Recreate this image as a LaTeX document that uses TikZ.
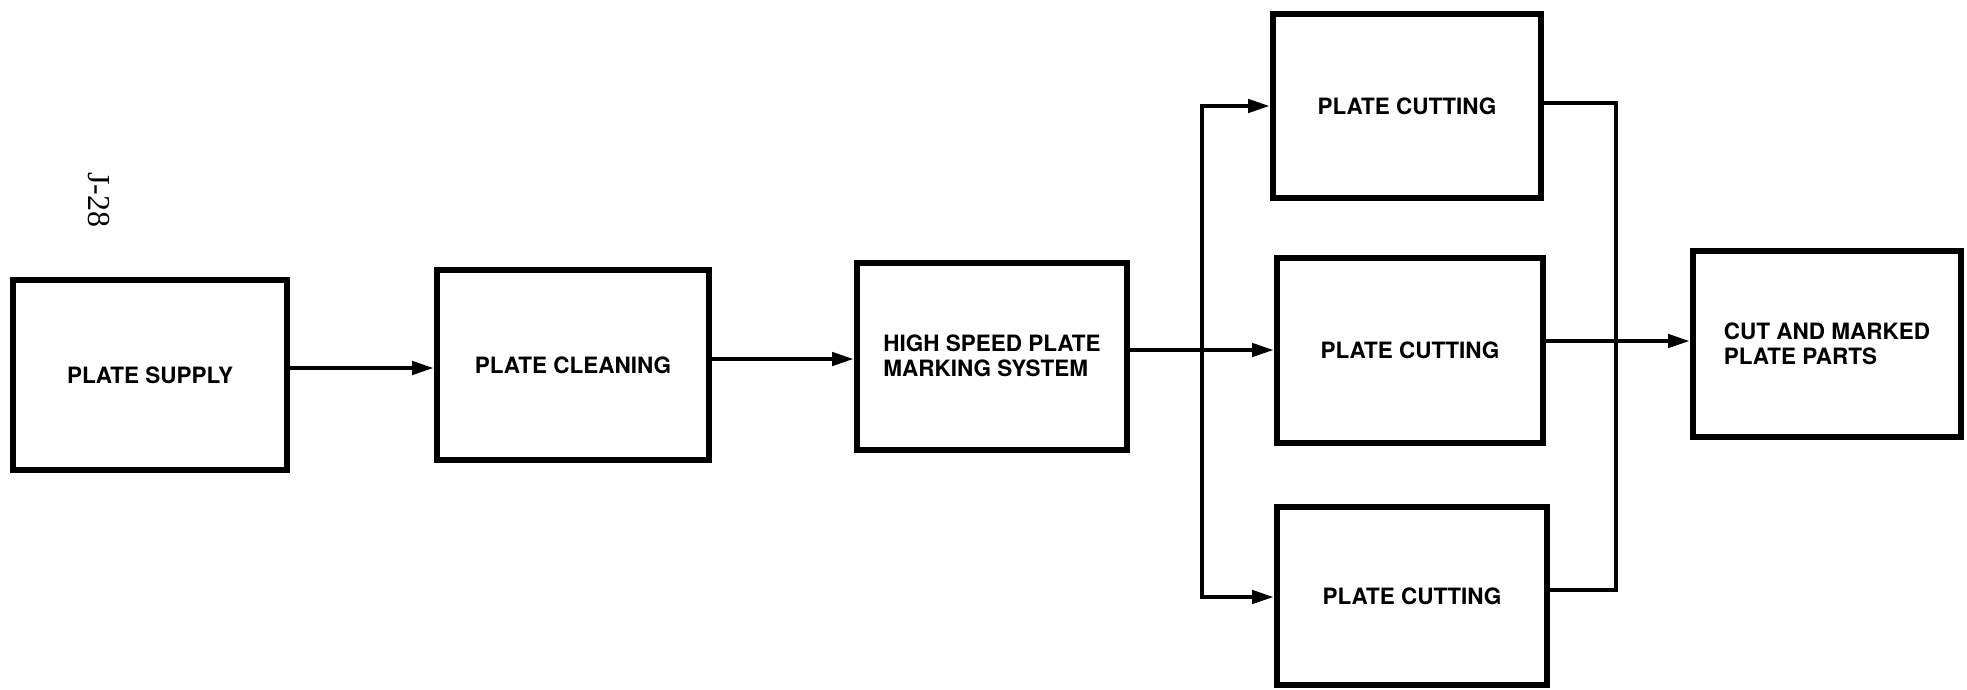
\documentclass[tikz,border=0pt]{standalone}
\usepackage{fontspec}
\setmainfont{TeX Gyre Heros}
\newfontfamily\serifj{Liberation Serif}
\usetikzlibrary{arrows.meta}
\tikzset{
  blk/.style={draw, line width=6pt, inner sep=0pt, align=left,
    font=\bfseries\fontsize{22.5}{25}\selectfont},
  conn/.style={line width=4.5pt},
  arr/.style={line width=4.5pt, -{Triangle[length=22pt,width=13pt]}},
}
\begin{document}
\begin{tikzpicture}[x=1pt,y=-1pt]
\useasboundingbox (0,0) rectangle (1967,689);
\node[rotate=-90, font=\serifj\fontsize{32}{34}\selectfont] (pg) at (99,200) {J-28};
\node[blk, minimum width=274pt, minimum height=190pt] (supply) at (150,375) {PLATE SUPPLY};
\node[blk, minimum width=272pt, minimum height=190pt] (clean) at (573,365) {PLATE CLEANING};
\node[blk, minimum width=270pt, minimum height=187pt] (mark) at (992,356) {HIGH SPEED PLATE\\MARKING SYSTEM};
\node[blk, minimum width=268pt, minimum height=184pt] (cut1) at (1407,106) {PLATE CUTTING};
\node[blk, minimum width=266pt, minimum height=185pt] (cut2) at (1410,350) {PLATE CUTTING};
\node[blk, minimum width=270pt, minimum height=178pt] (cut3) at (1412,596) {PLATE CUTTING};
\node[blk, minimum width=268pt, minimum height=186pt] (final) at (1827,344) {CUT AND MARKED\\PLATE PARTS};
\coordinate (bl1) at (1202,106);
\coordinate (bl2) at (1202,350);
\coordinate (bl3) at (1202,597);
\coordinate (br1) at (1616,103);
\coordinate (br2) at (1616,341);
\coordinate (br3) at (1616,590);
\draw[arr] (supply.east |- 0,368) -- (clean.west |- 0,368);
\draw[arr] (clean.east |- 0,359) -- (mark.west |- 0,359);
\draw[arr] (mark.east |- 0,350) -- (bl2) -- (cut2.west |- bl2);
\draw[conn, line cap=rect] (bl1) -- (bl3);
\draw[arr] (bl1) -- (cut1.west |- bl1);
\draw[arr] (bl3) -- (cut3.west |- bl3);
\draw[conn, line join=miter] (cut1.east |- br1) -- (br1) -- (br3) -- (cut3.east |- br3);
\draw[arr] (cut2.east |- br2) -- (final.west |- br2);
\end{tikzpicture}
\end{document}
